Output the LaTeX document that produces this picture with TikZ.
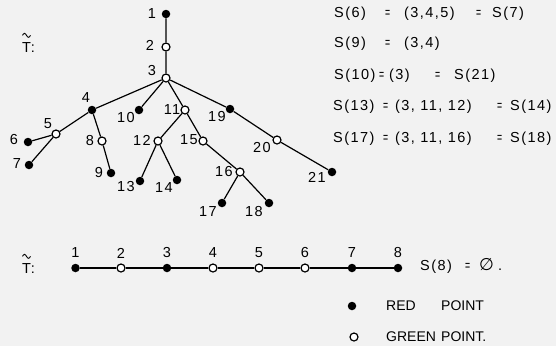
\documentclass[tikz,border=0pt]{standalone}
\usepackage{graphicx}
\usepackage{fontspec}
\setmainfont{Liberation Sans}
\newfontfamily\lett[LetterSpace=10]{Liberation Sans}
\newcommand\smeq{\scalebox{0.6}[1]{=}}
\definecolor{bg}{RGB}{242,242,242}
\begin{document}
\begin{tikzpicture}[x=1pt,y=-1pt,
  every node/.style={font=\lett\fontsize{14.5}{16}\selectfont},
  red/.style={circle,fill=black,inner sep=0pt,minimum size=8.5pt},
  green/.style={circle,draw=black,fill=white,line width=1.2pt,inner sep=0pt,minimum size=8pt},
  lbl/.style={inner sep=0pt},
  txt/.style={inner sep=0pt,anchor=west},
  basetxt/.style={inner sep=0pt,anchor=base west},
  plain/.style={inner sep=0pt,anchor=west,font=\fontsize{14}{16}\selectfont},
  tildestroke/.style={line width=0.9pt},
  edge/.style={line width=1.2pt}]
\fill[bg] (0,0) rectangle (556,346);
\useasboundingbox (0,0) rectangle (556,346);
% tree nodes
\node[red]   (n1)  at (166,14)  {};
\node[green] (n2)  at (166,47)  {};
\node[green] (n3)  at (166,78)  {};
\node[red]   (n4)  at (92,110)  {};
\node[green] (n5)  at (56,134)  {};
\node[red]   (n6)  at (28,142)  {};
\node[red]   (n7)  at (29,165)  {};
\node[green] (n8)  at (102,141) {};
\node[red]   (n9)  at (111,173) {};
\node[red]   (n10) at (139,110) {};
\node[green] (n11) at (185,110) {};
\node[green] (n12) at (158,141) {};
\node[red]   (n13) at (140,181) {};
\node[red]   (n14) at (177,180) {};
\node[green] (n15) at (203,141) {};
\node[green] (n16) at (240,172) {};
\node[red]   (n17) at (222,203) {};
\node[red]   (n18) at (269,203) {};
\node[red]   (n19) at (230,109) {};
\node[green] (n20) at (277,140) {};
\node[red]   (n21) at (332,172) {};
\draw[edge] (n1)--(n2) (n2)--(n3) (n3)--(n4) (n3)--(n10) (n3)--(n11) (n3)--(n19)
  (n4)--(n5) (n5)--(n6) (n5)--(n7) (n4)--(n8) (n8)--(n9)
  (n11)--(n12) (n12)--(n13) (n12)--(n14) (n11)--(n15) (n15)--(n16)
  (n16)--(n17) (n16)--(n18) (n19)--(n20) (n20)--(n21);
% labels
\node[lbl] (l1)  at ([shift={(-14,0)}]n1) {1};
\node[lbl] (l2)  at ([shift={(-16,-2)}]n2) {2};
\node[lbl] (l3)  at ([shift={(-14,-7)}]n3) {3};
\node[lbl] (l4)  at ([shift={(-6,-12)}]n4) {4};
\node[lbl] (l5)  at ([shift={(-8,-10)}]n5) {5};
\node[lbl] (l6)  at ([shift={(-14,-2)}]n6) {6};
\node[lbl] (l7)  at ([shift={(-12,-1)}]n7) {7};
\node[lbl] (l8)  at ([shift={(-12,0)}]n8) {8};
\node[lbl] (l9)  at ([shift={(-12,0)}]n9) {9};
\node[lbl] (l10) at ([shift={(-13,8)}]n10) {10};
\node[lbl] (l11) at ([shift={(-13,0)}]n11) {11};
\node[lbl] (l12) at ([shift={(-16,-1)}]n12) {12};
\node[lbl] (l13) at ([shift={(-14,6)}]n13) {13};
\node[lbl] (l14) at ([shift={(-13,8)}]n14) {14};
\node[lbl] (l15) at ([shift={(-14,-1)}]n15) {15};
\node[lbl] (l16) at ([shift={(-16,0)}]n16) {16};
\node[lbl] (l17) at ([shift={(-14,9)}]n17) {17};
\node[lbl] (l18) at ([shift={(-15,9)}]n18) {18};
\node[lbl] (l19) at ([shift={(-13,8)}]n19) {19};
\node[lbl] (l20) at ([shift={(-15,8)}]n20) {20};
\node[lbl] (l21) at ([shift={(-15,5)}]n21) {21};
\node[basetxt] (t1) at (22,52) {T:};
\draw[tildestroke] ([shift={(0.5,-6.5)}]t1.north west) sin ++(2,-2) cos ++(2,2) sin ++(2,2) cos ++(2,-2);
% right text
\node[txt] (s1) at (334,14) {\makebox[51pt][l]{S(6)}\makebox[19pt][l]{\smeq}\makebox[72pt][l]{(3,4,5)}\makebox[16pt][l]{\smeq}S(7)};
\node[txt] (s2) at (334,44) {\makebox[51pt][l]{S(9)}\makebox[19pt][l]{\smeq}(3,4)};
\node[txt] (s3) at (334,76) {\makebox[45pt][l]{S(10)}\makebox[10pt][l]{\smeq}\makebox[46pt][l]{(3)}\makebox[19pt][l]{\smeq}S(21)};
\node[txt] (s4) at (333,107) {\makebox[50pt][l]{S(13)}\makebox[12pt][l]{\smeq}\makebox[102pt][l]{(3, 11, 12)}\makebox[13pt][l]{\smeq}S(14)};
\node[txt] (s5) at (333,139) {\makebox[50pt][l]{S(17)}\makebox[12pt][l]{\smeq}\makebox[102pt][l]{(3, 11, 16)}\makebox[13pt][l]{\smeq}S(18)};
% path graph
\node[basetxt] (t2) at (22,273) {T:};
\draw[tildestroke] ([shift={(0.5,-6.5)}]t2.north west) sin ++(2,-2) cos ++(2,2) sin ++(2,2) cos ++(2,-2);
\foreach \i/\x/\s in {1/75.5/red,2/121/green,3/167/red,4/213/green,5/259/green,6/305/green,7/352/red,8/398/red}{
  \node[\s] (p\i) at (\x,268) {};
  \node[lbl] (q\i) at (\x,253) {\i};
}
\draw[edge] (p1)--(p2) (p2)--(p3) (p3)--(p4) (p4)--(p5) (p5)--(p6) (p6)--(p7) (p7)--(p8);
\node[txt] (s8) at (420,266) {\makebox[45pt][l]{S(8)}\makebox[14pt][l]{\smeq}\makebox[19pt][l]{\fontspec{DejaVu Sans}\fontsize{17}{18}\selectfont ∅}.};
% legend
\node[red] (kr) at (352,306) {};
\node[plain] (kt1) at (386,306) {\makebox[55pt][l]{RED}POINT};
\node[green] (kg) at (354,337) {};
\node[plain] (kt2) at (386,337) {\makebox[55pt][l]{GREEN}POINT.};
\end{tikzpicture}
\end{document}
